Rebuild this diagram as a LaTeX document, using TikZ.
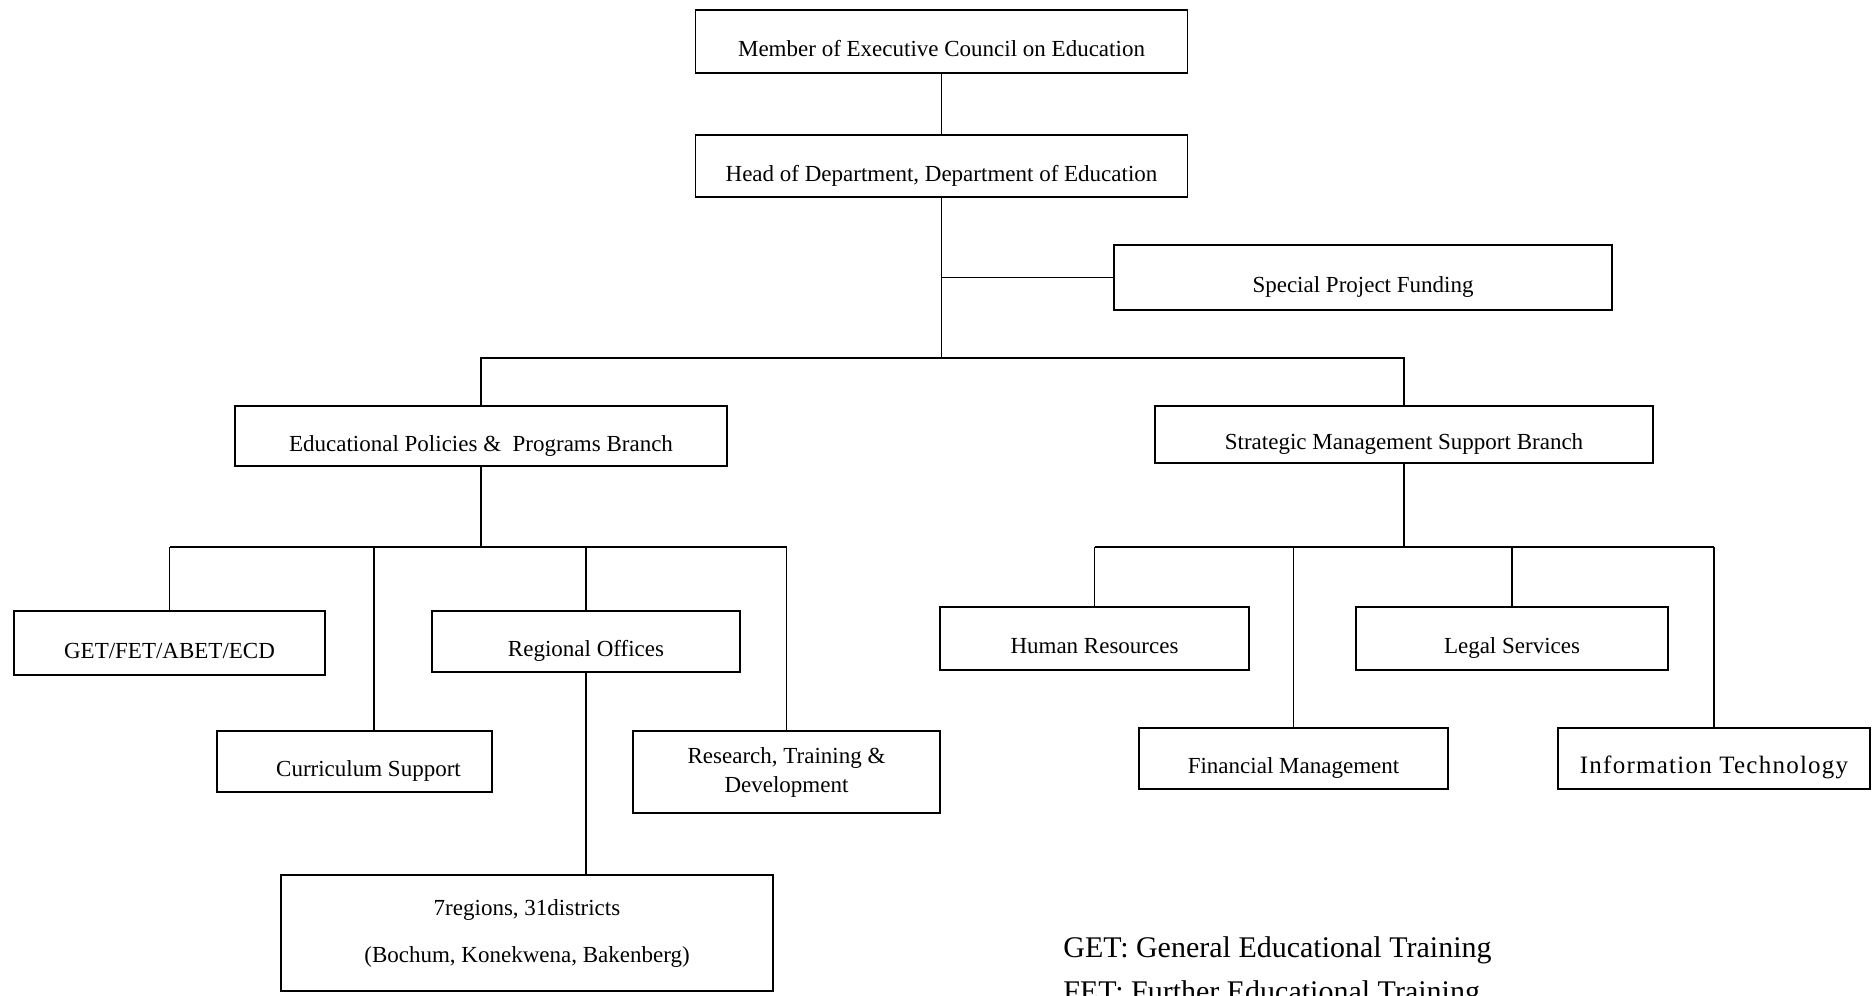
\documentclass[tikz,border=0pt]{standalone}
\usepackage{fontspec}
\setmainfont{Liberation Serif}
\tikzset{
  post/.style={draw, line width=0.9pt, inner sep=0pt, align=center,
    font=\fontsize{11.5}{14.5}\selectfont},
  postone/.style={post, text height=15pt, text depth=0pt},
  link/.style={line width=0.9pt},
  keyline/.style={anchor=base west, inner sep=0pt, font=\fontsize{15}{18}\selectfont},
}

\begin{document}
\begin{tikzpicture}[x=0.5pt,y=-0.5pt]
                \useasboundingbox (0,0) rectangle (1872,995);
                \fill[white] (0,0) rectangle (1872,995);

                % top of the chart
                \node[postone, minimum width=246pt, minimum height=31.5pt] (mec) at (941.5,41.5) {Member of Executive Council on Education};
                \node[postone, minimum width=246pt, minimum height=31pt] (hod) at (941.5,166) {Head of Department, Department of Education};
                \node[postone, minimum width=249pt, minimum height=32.5pt] (spf) at (1363,277.5) {Special Project Funding};

                % the two branches
                \node[postone, minimum width=246pt, minimum height=30pt] (eppb) at (481,436) {Educational Policies \&\ \ Programs Branch};
                \node[postone, minimum width=249pt, minimum height=28.5pt] (smsb) at (1404,434.5) {Strategic Management Support Branch};

                % units under the first branch
                \node[postone, minimum width=155.5pt, minimum height=32pt] (get) at (169.5,643) {GET/FET/ABET/ECD};
                \node[postone, minimum width=154pt, minimum height=30.5pt] (reg) at (586,641.5) {Regional Offices};
                \node[postone, minimum width=137.5pt, minimum height=30.5pt] (cur) at (354.5,761.5) {\hspace*{14pt}Curriculum Support};
                \node[post, minimum width=153.5pt, minimum height=41pt] (rtd) at (786.5,772) {Research, Training \&\\Development};
                \node[post, minimum width=246pt, minimum height=58pt] (dist) at (527,933) {7regions, 31districts\\[9pt](Bochum, Konekwena, Bakenberg)};

                % units under the second branch
                \node[postone, minimum width=154.5pt, minimum height=31.5pt] (hr) at (1094.5,638.5) {Human Resources};
                \node[postone, minimum width=156pt, minimum height=31.5pt] (legal) at (1512,638.5) {Legal Services};
                \node[postone, minimum width=154.5pt, minimum height=30.5pt] (fin) at (1293.5,758.5) {Financial Management};
                \node[postone, minimum width=156pt, minimum height=30.5pt, font=\fontsize{12.5}{15}\selectfont\addfontfeature{LetterSpace=5}] (it) at (1714,758.5) {Information Technology};

                % key
                \node[keyline] (keyget) at (1063,957) {GET: General Educational Training};
                \node[keyline] (keyfet) at (1063,1001) {FET: Further Educational Training};

                \coordinate (topbar) at (941.5,358);
                \coordinate (lbar) at (481,547);
                \coordinate (rbar) at (1404,547);
                \coordinate (curdrop) at (374,547);

                \draw[link] (mec.south) -- (hod.north);
                \draw[link] (hod.south) -- (hod.south |- topbar);
                \draw[link] (hod.south |- spf.west) -- (spf.west);
                \draw[link] (eppb.north) -- (eppb.north |- topbar) -- (smsb.north |- topbar) -- (smsb.north);

                \draw[link] (eppb.south) -- (eppb.south |- lbar);
                \draw[link] (get.north |- lbar) -- (rtd.north |- lbar);
                \foreach \n in {get,reg,rtd} {
                  \draw[link] (\n.north |- lbar) -- (\n.north);
                }
                \draw[link] (curdrop) -- (curdrop |- cur.north);
                \draw[link] (reg.south) -- (reg.south |- dist.north);

                \draw[link] (smsb.south) -- (smsb.south |- rbar);
                \draw[link] (hr.north |- rbar) -- (it.north |- rbar);
                \foreach \n in {hr,fin,legal,it} {
                  \draw[link] (\n.north |- rbar) -- (\n.north);
                }
              \end{tikzpicture}
\end{document}
